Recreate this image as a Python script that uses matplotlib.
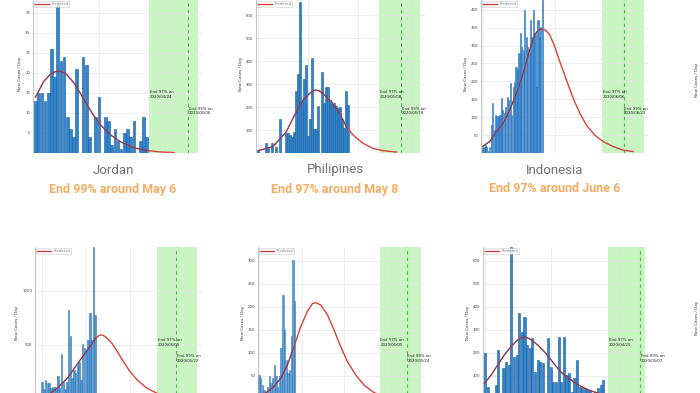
import matplotlib
matplotlib.use("Agg")
import matplotlib.pyplot as plt
import numpy as np

W, H = 700, 393

# ---------------- data ----------------
titles = ["Jordan", "Philipines", "Indonesia", "", "", ""]
subtitles = ["End 99% around May 6", "End 97% around May 8", "End 97% around June 6", "", "", ""]

jordan_cases = [13, 15, 15, 13, 15, 26, 19, 37, 23, 24, 9, 6, 4, 21, 0, 24, 22, 4, 0, 9,
                14, 0, 9, 8, 2, 6, 3, 1, 5, 6, 4, 8, 0, 3, 9, 4]
jordan_fit_x = [0, 2.6, 4.8, 6.1, 7.4, 8.7, 10, 12.6, 15.3, 17.9, 20.5, 23.7, 26.8, 31, 35.3, 39.5, 43.7]
jordan_fit_y = [14, 17.9, 19.8, 20.3, 20.5, 20.2, 19.5, 17, 13.3, 9.9, 7, 4.5, 2.8, 1.3, 0.6, 0.25, 0.1]

phil_cases = [10, 0, 0, 0, 45, 20, 0, 42, 0, 25, 0, 148, 0, 0, 85, 88, 78, 71, 93, 271,
              343, 658, 223, 320, 383, 74, 149, 412, 103, 103, 204, 0, 351, 219, 285, 288,
              230, 213, 216, 204, 194, 199, 146, 110, 271, 209]
phil_fit_x = [0, 7.5, 14.2, 18.3, 22.5, 25.8, 27.3, 28.8, 30.6, 32.5, 36.7, 40.8, 44.2, 47.5, 52.5, 57.5, 62.5, 69.2]
phil_fit_y = [10, 28, 93, 165, 230, 259, 269, 274, 270, 259, 223, 172, 114, 78, 42, 20, 10, 4]

indo_cases = [13, 18, 22, 18, 5, 18, 78, 139, 64, 106, 103, 101, 106, 153, 120, 111, 129,
              157, 148, 195, 106, 185, 199, 241, 232, 278, 334, 297, 288, 400, 325, 297,
              278, 371, 325, 400, 334, 185, 371, 325, 353, 427]
indo_fit_x = [0, 5, 9.6, 14.2, 18.7, 23.3, 27.9, 32.4, 35.8, 37.6, 39.3, 41, 42.7, 44.4, 46.1,
              49.5, 53, 57.5, 62.1, 66.7, 71.2, 76.9, 82.6, 89.5, 96.3, 103.2]
indo_fit_y = [18, 32, 60, 83, 120, 167, 223, 288, 330, 340, 345, 346, 344, 338, 330, 297,
              255, 204, 153, 111, 78, 50, 32, 18, 8, 4]

c4_cases = [154, 90, 176, 145, 145, 99, 114, 110, 105, 213, 100, 417, 160, 90, 160, 824,
            583, 191, 268, 238, 315, 346, 180, 512, 469, 454, 546, 793, 546, 1410, 778]
c4_fit_x = [0, 4.7, 9.4, 14.2, 18.9, 23.6, 28.3, 30.5, 32.5, 34.2, 35.8, 39.6, 44.3, 49.1, 53.8, 59.4, 65.1]
c4_fit_y = [22, 52, 114, 191, 299, 407, 515, 565, 593, 590, 577, 515, 392, 268, 176, 99, 52]

c5_cases = [52, 45, 30, 20, 12, 27, 51, 34, 45, 74, 49, 27, 49, 110, 226, 150, 85, 56, 63,
            136, 302, 212]
c5_fit_x = [0.6, 4.9, 8.8, 12.7, 16.7, 20.6, 24.5, 28.4, 31.4, 33.3, 36.3, 40.2, 44.1, 48,
            52, 56.9, 61.8, 67.6, 73.5, 79.4]
c5_fit_y = [5, 16, 27, 45, 74, 114, 157, 190, 207, 209, 204, 183, 150, 114, 81, 52, 30, 14, 5, 1]

c6_cases = [201, 54, 0, 0, 61, 213, 0, 133, 162, 148, 662, 184, 191, 372, 293, 355, 235,
            220, 264, 119, 170, 162, 155, 0, 264, 141, 75, 75, 271, 75, 271, 104, 112, 32,
            90, 170, 54, 46, 46, 39, 39, 25, 32, 46, 61, 83]
c6_fit_x = [-0.25, 2.3, 4.8, 7.3, 9.9, 12.4, 13.7, 14.9, 16.2, 17.5, 20, 22.5, 25.1, 27.6, 30.1, 32.7,
            36.5, 40.3, 44.1, 47.8]
c6_fit_y = [68, 104, 148, 191, 228, 257, 265, 268, 265, 257, 235, 206, 170, 133, 104, 83, 54, 35, 22, 13]

end97_labels = ["End 97% on\n2020/04/24", "End 97% on\n2020/05/08", "End 97% on\n2020/06/06",
                "End 97% on\n2020/05/05", "End 97% on\n2020/05/05", "End 97% on\n2020/04/25"]
end99_labels = ["End 99% on\n2020/05/06", "End 99% on\n2020/05/18", "End 99% on\n2020/06/23",
                "End 99% on\n2020/05/22", "End 99% on\n2020/05/24", "End 99% on\n2020/05/07"]

# ---------------- layout / styles ----------------
panels = [
    dict(cases=jordan_cases, fx=jordan_fit_x, fy=jordan_fit_y, box=(33, -5, 203, 153),
         xlim=(-0.8, 52.8), ylim=39.5, yticks=[5, 10, 15, 20, 25, 30, 35],
         span=(35.7, 51.1), dash=48.0, face="#2f86d0", edge="#1d5a96"),
    dict(cases=phil_cases, fx=phil_fit_x, fy=phil_fit_y, box=(256, -5, 425, 153),
         xlim=(-1, 83.5), ylim=687, yticks=[100, 200, 300, 400, 500, 600],
         span=(60.5, 81.2), dash=71.7, face="#2f86d0", edge="#1d5a96"),
    dict(cases=indo_cases, fx=indo_fit_x, fy=indo_fit_y, box=(481, -5, 648, 153),
         xlim=(-1, 113.4), ylim=441, yticks=[50, 100, 150, 200, 250, 300, 350, 400],
         span=(82.2, 110.7), dash=96.8, face="#3a8fd8", edge="#2a70b8"),
    dict(cases=c4_cases, fx=c4_fit_x, fy=c4_fit_y, box=(35, 247, 203, 399),
         xlim=(-4, 91), ylim=1407, yticks=[500, 1000],
         span=(65.1, 87.7), dash=75.8, face="#4a98d8", edge="#3575b5"),
    dict(cases=c5_cases, fx=c5_fit_x, fy=c5_fit_y, box=(258, 247, 425, 399),
         xlim=(-0.6, 97.6), ylim=330, yticks=[50, 100, 150, 200, 250, 300],
         span=(71, 95.5), dash=86.9, face="#5aa2dc", edge="#3575b5"),
    dict(cases=c6_cases, fx=c6_fit_x, fy=c6_fit_y, box=(483, 247, 648, 399),
         xlim=(-0.8, 62), ylim=660, yticks=[100, 200, 300, 400, 500, 600],
         span=(46.8, 60.8), dash=58.9, face="#2f86d0", edge="#1d5a96"),
]

fig = plt.figure(figsize=(W / 100, H / 100), dpi=100)
fig.patch.set_facecolor("white")

for i, p in enumerate(panels):
    l, t, r, b = p["box"]
    ax = fig.add_axes([l / W, 1 - b / H, (r - l) / W, (b - t) / H])
    ax.set_facecolor("white")
    n = len(p["cases"])
    x = np.arange(n)
    ax.axvspan(p["span"][0], p["span"][1], color="#c9f5c2", zorder=0, lw=0)
    ax.axvline(p["dash"], color="#49b849", lw=0.8, ls=(0, (3, 3)), zorder=1)
    ax.bar(x, p["cases"], width=0.82, color=p["face"], edgecolor=p["edge"], lw=0.4, zorder=2)
    fx = np.array(p["fx"]); fy = np.array(p["fy"])
    ax.plot(fx, fy, color="#d8433a", lw=1.0, zorder=3, label="Predicted")
    m = fx <= n
    ax.plot(fx[m], fy[m], color="#2c3a78", lw=0.7, alpha=0.6, zorder=4)
    ax.set_xlim(*p["xlim"])
    ax.set_ylim(0, p["ylim"])
    ax.set_yticks(p["yticks"])
    ax.tick_params(axis="y", labelsize=2.8, length=0, pad=2, labelcolor="#444444")
    ax.tick_params(axis="x", labelbottom=False, length=0)
    ax.grid(True, color="#e6e6e6", lw=0.5, zorder=0)
    ax.set_axisbelow(True)
    for s in ["top", "right", "bottom"]:
        ax.spines[s].set_visible(False)
    ax.spines["left"].set_color("#999999")
    ax.spines["left"].set_linewidth(0.4)
    ax.set_ylabel("New Cases / Day", fontsize=3, labelpad=2, color="#333333")
    tr = ax.get_xaxis_transform()
    ax.text(p["span"][0] + 0.3, 0.37, end97_labels[i], transform=tr, fontsize=2.8,
            va="center", ha="left", color="#222222", zorder=5)
    ax.text(p["dash"] + 0.3, 0.265, end99_labels[i], transform=tr, fontsize=2.8,
            va="center", ha="left", color="#222222", zorder=5)
    top_frac = (b - max(t, 0) - 0.5) / (b - t)
    leg = ax.legend(loc="upper left", bbox_to_anchor=(0.0, top_frac), fontsize=2.5,
                    handlelength=4, frameon=True, borderpad=0.3, fancybox=False,
                    borderaxespad=0.2)
    leg.get_frame().set_edgecolor("#bbbbbb")
    leg.get_frame().set_linewidth(0.4)
    for txt in leg.get_texts():
        txt.set_color("#777777")

# titles under top row
centers = [113, 335, 555]
for c, ttl, sub in zip(centers, titles[:3], subtitles[:3]):
    fig.text(c / W, 1 - 170 / H, ttl, ha="center", va="center", fontsize=9.5,
             family="Roboto", weight="normal", color="#707070")
    fig.text(c / W, 1 - 189 / H, sub, ha="center", va="center", fontsize=9,
             family="Roboto", weight="bold", color="#f2ad62")

# partially visible fourth column
for yy in (80, 318):
    fig.text(697 / W, 1 - yy / H, "New Cases / Day", rotation=90, fontsize=3,
             ha="center", va="center", color="#333333")

fig.savefig("out.png", dpi=100, facecolor="white")
